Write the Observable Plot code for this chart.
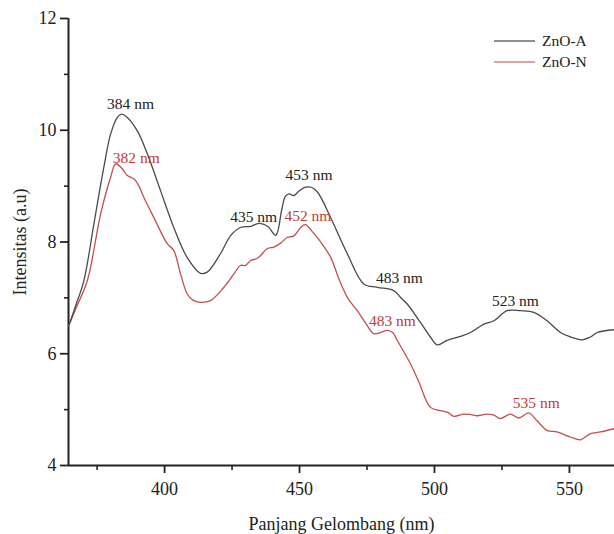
<!DOCTYPE html>
<html>
<head>
<meta charset="utf-8">
<script src="https://cdn.jsdelivr.net/npm/d3@7"></script>
<script src="https://cdn.jsdelivr.net/npm/@observablehq/plot@0.6"></script>
<style>
  html, body { margin: 0; padding: 0; background: #fff; }
  #wrap { position: relative; width: 614px; height: 534px; overflow: hidden; font-family: 'Liberation Serif', 'Times New Roman', serif; }
  #legend { position: absolute; left: 494px; top: 30px; font-size: 15.5px; color: #222; }
  #legend .row { display: flex; align-items: center; height: 21.5px; }
  #legend svg { margin-right: 7px; }
</style>
</head>
<body>
<div id="wrap"></div>
<script>
// ---- Data ----
const seriesNames = ["ZnO-A", "ZnO-N"];

const wlA = [364.4, 367.0, 370.1, 373.8, 377.5, 380.0, 382.5, 384.1, 386.2, 389.9, 393.6, 398.5, 403.4, 408.4, 413.3, 415.8, 420.7, 424.4, 428.1, 431.9, 434.5, 436.5, 438.5, 441.2, 443.5, 444.8, 446.3, 447.8, 450.0, 452.3, 454.4, 456.7, 461.5, 467.7, 473.8, 478.8, 484.9, 487.4, 489.9, 494.8, 498.5, 501.0, 504.7, 509.6, 513.3, 518.3, 522.0, 526.9, 531.9, 536.8, 541.7, 546.7, 550.4, 554.7, 557.8, 560.3, 566.7];
const intA = [6.49, 6.85, 7.31, 8.32, 9.34, 9.93, 10.23, 10.29, 10.23, 9.99, 9.58, 8.92, 8.26, 7.72, 7.44, 7.46, 7.79, 8.11, 8.26, 8.28, 8.33, 8.32, 8.27, 8.12, 8.60, 8.82, 8.86, 8.83, 8.92, 8.98, 8.98, 8.89, 8.44, 7.79, 7.25, 7.19, 7.13, 7.01, 6.89, 6.56, 6.30, 6.16, 6.24, 6.31, 6.38, 6.53, 6.59, 6.77, 6.77, 6.74, 6.59, 6.38, 6.30, 6.25, 6.30, 6.38, 6.43];

const wlN = [364.4, 367.5, 371.4, 376.3, 380.0, 381.9, 384.3, 386.2, 388.6, 390.5, 392.3, 396.0, 401.0, 403.4, 405.9, 408.4, 410.5, 413.3, 417.0, 422.0, 425.7, 428.1, 430.0, 431.9, 434.0, 435.6, 438.0, 440.5, 443.0, 445.4, 447.9, 450.4, 452.2, 454.5, 456.6, 461.5, 464.5, 467.7, 471.4, 474.5, 477.5, 480.0, 482.5, 484.5, 486.2, 491.1, 494.0, 498.5, 502.2, 505.0, 507.1, 510.9, 513.5, 515.8, 519.5, 522.0, 524.4, 528.1, 531.2, 534.9, 538.0, 541.7, 545.4, 550.4, 554.1, 557.8, 561.5, 566.7];
const intN = [6.49, 6.85, 7.31, 8.50, 9.16, 9.40, 9.31, 9.19, 9.13, 9.00, 8.80, 8.44, 7.97, 7.85, 7.43, 7.07, 6.96, 6.92, 6.95, 7.19, 7.43, 7.58, 7.58, 7.67, 7.70, 7.76, 7.88, 7.91, 7.98, 8.08, 8.11, 8.26, 8.31, 8.20, 8.08, 7.73, 7.35, 7.01, 6.77, 6.55, 6.36, 6.38, 6.42, 6.38, 6.24, 5.82, 5.52, 5.04, 4.98, 4.95, 4.88, 4.92, 4.91, 4.89, 4.92, 4.90, 4.84, 4.92, 4.85, 4.94, 4.80, 4.63, 4.60, 4.51, 4.46, 4.57, 4.60, 4.66];

// peak annotations
const labelTextA = ["384 nm", "435 nm", "453 nm", "483 nm", "523 nm"];
const labelXA    = [387.4, 433.0, 453.5, 487.0, 530.0];
const labelYA    = [10.47, 8.44, 9.19, 7.36, 6.95];
const labelTextN = ["382 nm", "452 nm", "483 nm", "535 nm"];
const labelXN    = [389.5, 453.1, 484.4, 537.7];
const labelYN    = [9.50, 8.47, 6.59, 5.12];

// axes
const xDomain = [364.4, 566.7];
const yDomain = [4, 12];
const xTicks = [400, 450, 500, 550];
const xMinorTicks = [375, 425, 475, 525];
const yTicks = [4, 6, 8, 10, 12];
const yMinorTicks = [5, 7, 9, 11];
const xTitle = "Panjang Gelombang (nm)";
const yTitle = "Intensitas (a.u)";

// ---- Build tables ----
const colorA = "#4a4a4a";
const colorN = "#c0504d";
const labelColorN = "#c23a36";
const rowsA = wlA.map((w, i) => ({wl: w, v: intA[i]}));
const rowsN = wlN.map((w, i) => ({wl: w, v: intN[i]}));
const labA = labelTextA.map((t, i) => ({t, x: labelXA[i], y: labelYA[i]}));
const labN = labelTextN.map((t, i) => ({t, x: labelXN[i], y: labelYN[i]}));

const chart = Plot.plot({
  width: 614,
  height: 534,
  marginLeft: 68,
  marginRight: 0,
  marginTop: 18,
  marginBottom: 69,
  style: {fontFamily: "'Liberation Serif', 'Times New Roman', serif", fontSize: "18px", color: "#222", background: "#fff"},
  x: {domain: xDomain},
  y: {domain: yDomain},
  marks: [
    Plot.axisY({ticks: yTicks, tickSize: 8, tickPadding: 4, tickFormat: d => String(d), strokeWidth: 1.8, fontSize: 18,
      label: yTitle, labelAnchor: "center", labelArrow: "none", labelOffset: 55}),
    Plot.axisY({ticks: yMinorTicks, tickSize: 4, tickFormat: () => "", strokeWidth: 1.6, label: null}),
    Plot.axisX({ticks: xTicks, tickSize: 8, tickPadding: 9, tickFormat: d => String(d), strokeWidth: 1.8, fontSize: 18,
      label: xTitle, labelAnchor: "center", labelArrow: "none", labelOffset: 64}),
    Plot.axisX({ticks: xMinorTicks, tickSize: 5, tickFormat: () => "", strokeWidth: 1.6, label: null}),
    Plot.ruleX([xDomain[0]], {stroke: "#222", strokeWidth: 2}),
    Plot.ruleY([yDomain[0]], {stroke: "#222", strokeWidth: 2}),
    Plot.line(rowsN, {x: "wl", y: "v", stroke: colorN, strokeWidth: 1.3, curve: "catmull-rom"}),
    Plot.line(rowsA, {x: "wl", y: "v", stroke: colorA, strokeWidth: 1.3, curve: "catmull-rom"}),
    Plot.text(labA, {x: "x", y: "y", text: "t", fill: "#222", fontSize: 15.5, textAnchor: "middle"}),
    Plot.text(labN, {x: "x", y: "y", text: "t", fill: labelColorN, fontSize: 15.5, textAnchor: "middle"})
  ]
});

const wrap = document.getElementById("wrap");
wrap.appendChild(chart);

// legend (HTML)
const legend = document.createElement("div");
legend.id = "legend";
[[seriesNames[0], "#6a6a6a"], [seriesNames[1], "#c98a88"]].forEach(([name, col]) => {
  const row = document.createElement("div");
  row.className = "row";
  row.innerHTML = `<svg width="41" height="4"><line x1="0" x2="41" y1="2" y2="2" stroke="${col}" stroke-width="1.3"/></svg><span>${name}</span>`;
  legend.appendChild(row);
});
wrap.appendChild(legend);
</script>
</body>
</html>
